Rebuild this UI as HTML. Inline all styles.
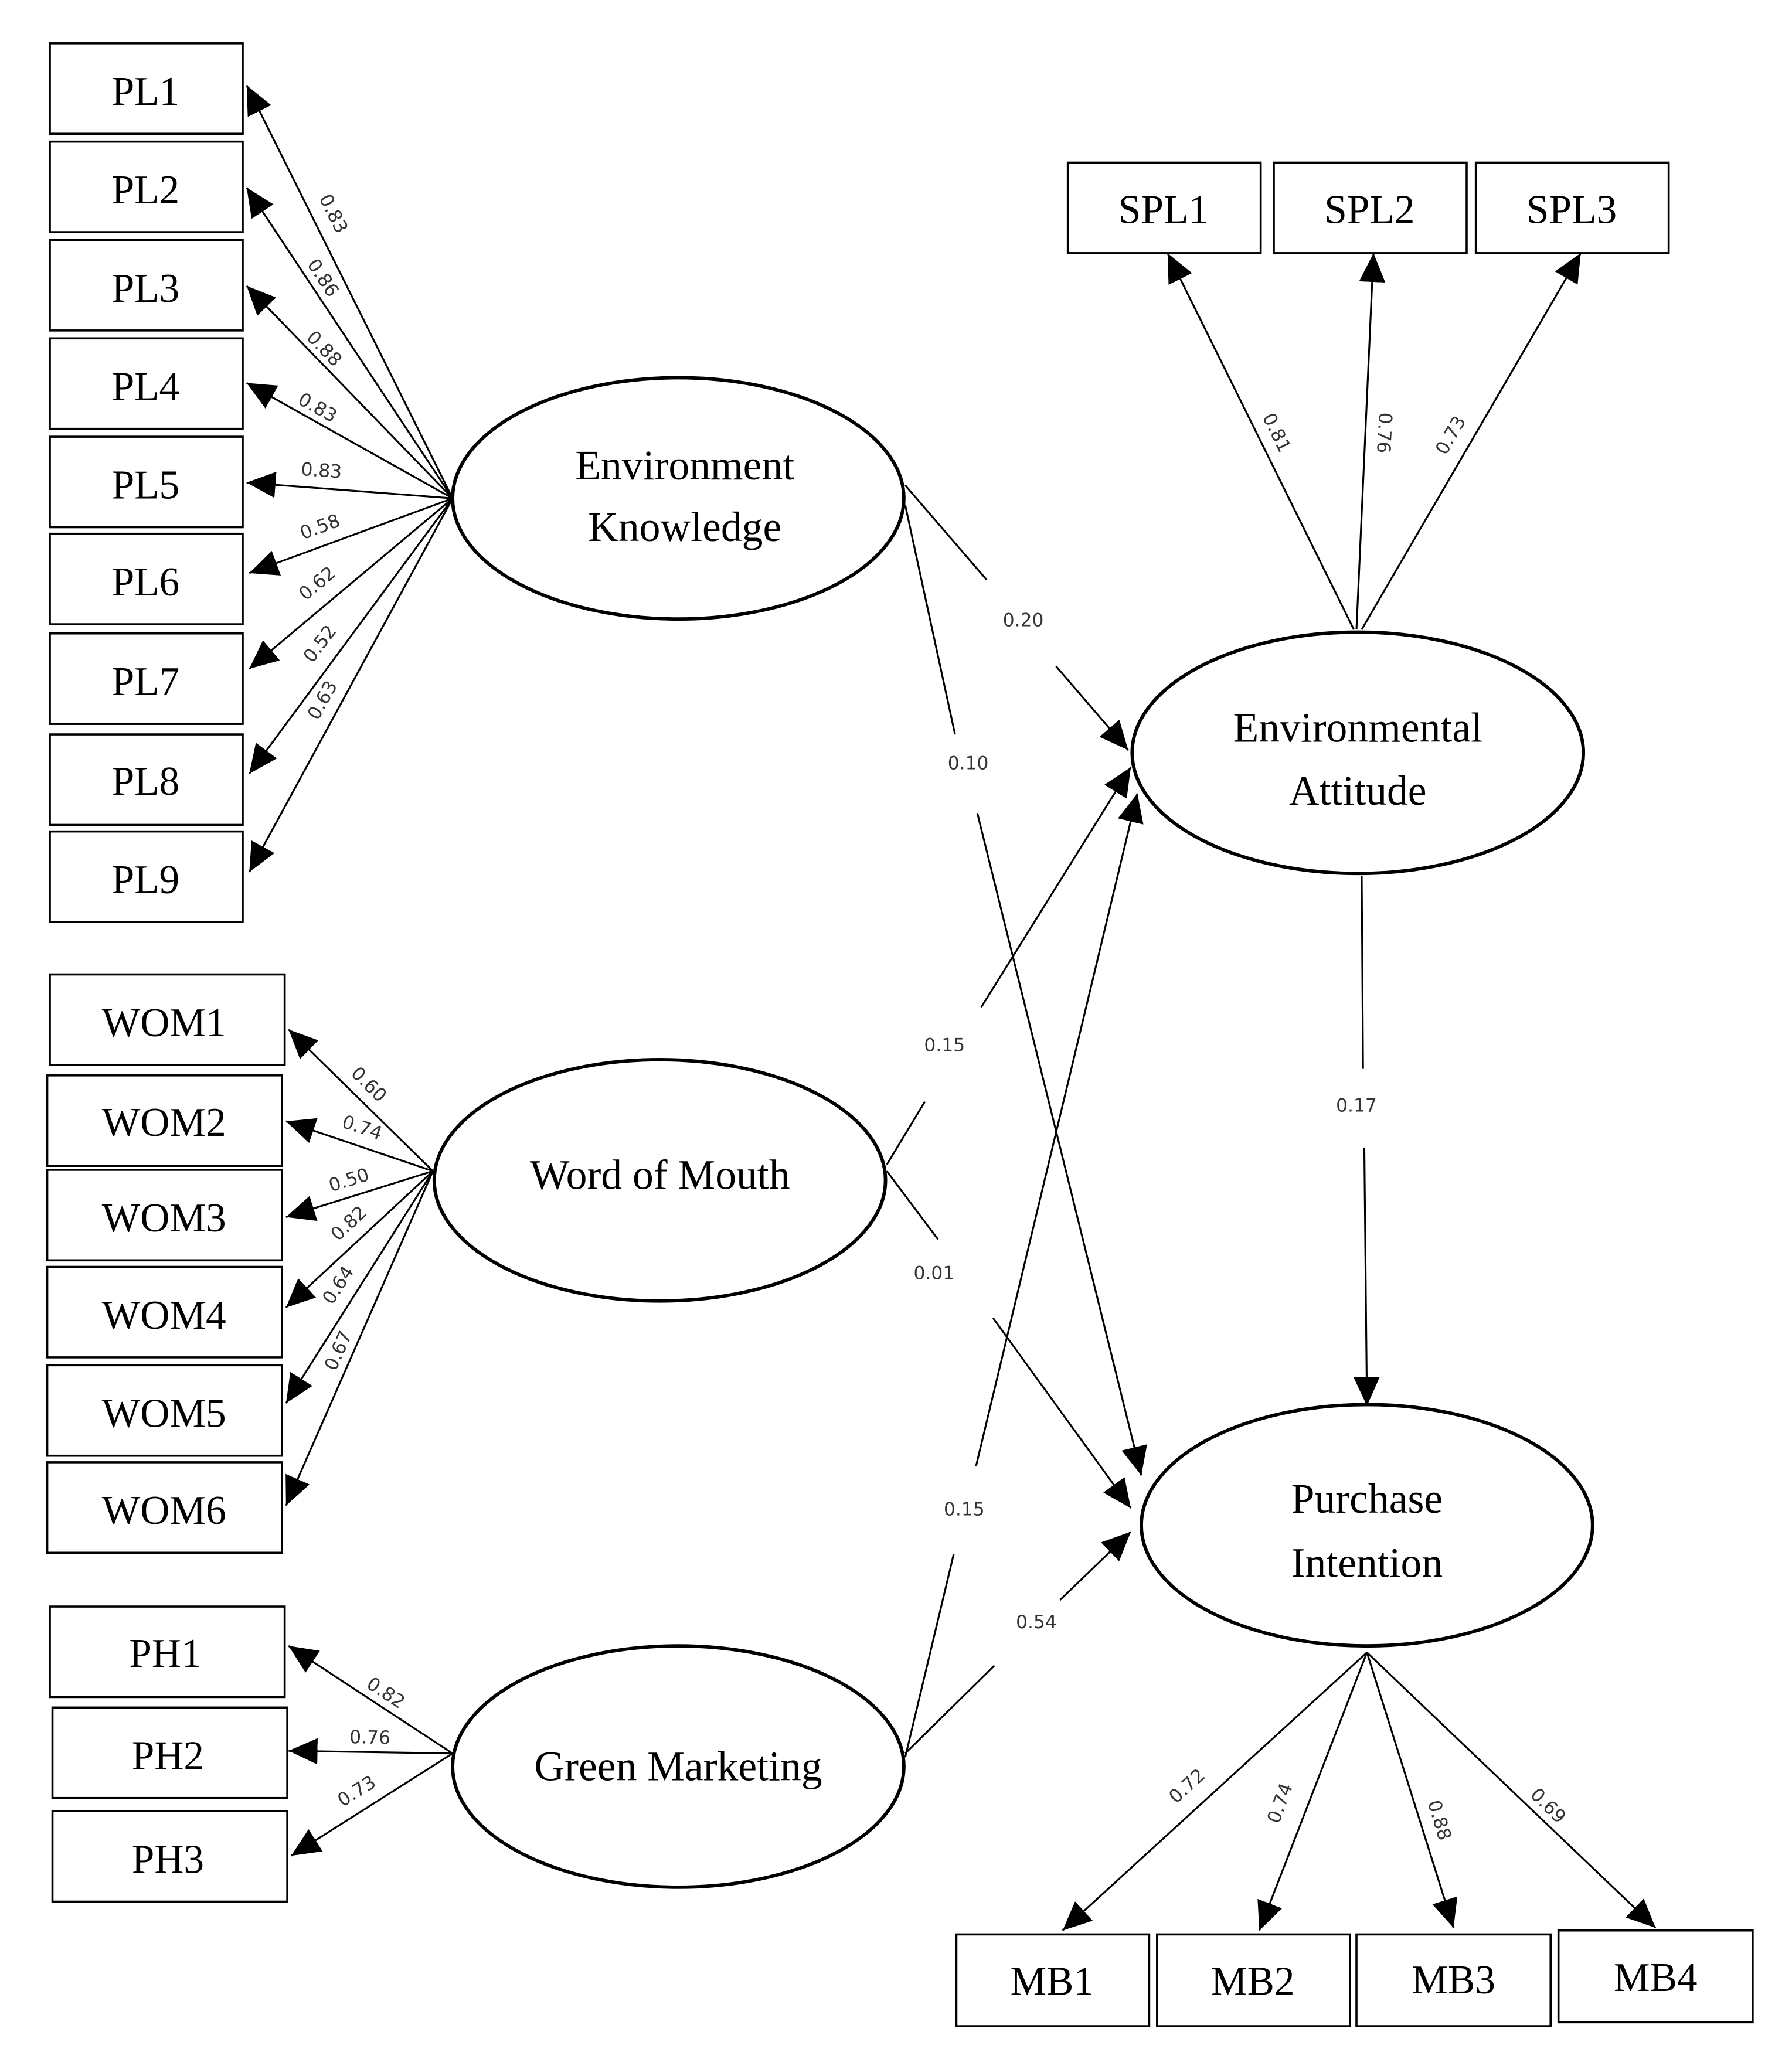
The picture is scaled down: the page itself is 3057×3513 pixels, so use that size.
<!DOCTYPE html>
<html><head><meta charset="utf-8"><style>
html,body{margin:0;padding:0;background:#fff;}
svg{display:block;}
.b{fill:#fff;stroke:#000;stroke-width:1.6;}
.e{fill:#fff;stroke:#000;stroke-width:2.6;}
.l{stroke:#000;stroke-width:1.4;fill:none;}
.bt{font-family:"Liberation Serif",serif;font-size:31px;text-anchor:middle;dominant-baseline:central;}
.et{font-family:"Liberation Serif",serif;font-size:32px;text-anchor:middle;dominant-baseline:central;}
.n{font-family:"DejaVu Sans","Liberation Sans",sans-serif;font-size:14px;fill:#333;text-anchor:middle;dominant-baseline:central;}
</style></head><body>
<svg width="3057" height="3513" viewBox="0 0 1366 1570" preserveAspectRatio="none" xmlns="http://www.w3.org/2000/svg">
<defs><marker id="a" markerUnits="userSpaceOnUse" markerWidth="24" markerHeight="24" refX="22" refY="10" orient="auto"><path d="M0,0 L22,10 L0,20 Z" fill="#000"/></marker></defs>

<!-- PL boxes -->
<g>
<rect class="b" x="38" y="33" width="147" height="69"/><text class="bt" x="111" y="70">PL1</text>
<rect class="b" x="38" y="108" width="147" height="69"/><text class="bt" x="111" y="145">PL2</text>
<rect class="b" x="38" y="183" width="147" height="69"/><text class="bt" x="111" y="220">PL3</text>
<rect class="b" x="38" y="258" width="147" height="69"/><text class="bt" x="111" y="295">PL4</text>
<rect class="b" x="38" y="333" width="147" height="69"/><text class="bt" x="111" y="370">PL5</text>
<rect class="b" x="38" y="407" width="147" height="69"/><text class="bt" x="111" y="444">PL6</text>
<rect class="b" x="38" y="483" width="147" height="69"/><text class="bt" x="111" y="520">PL7</text>
<rect class="b" x="38" y="560" width="147" height="69"/><text class="bt" x="111" y="596">PL8</text>
<rect class="b" x="38" y="634" width="147" height="69"/><text class="bt" x="111" y="671">PL9</text>
</g>
<g class="l" marker-end="url(#a)">
<line x1="345" y1="380" x2="188" y2="65"/>
<line x1="345" y1="380" x2="188" y2="143"/>
<line x1="345" y1="380" x2="188" y2="218"/>
<line x1="345" y1="380" x2="188" y2="292"/>
<line x1="345" y1="380" x2="188" y2="368"/>
<line x1="345" y1="380" x2="190" y2="437"/>
<line x1="345" y1="380" x2="190" y2="510"/>
<line x1="345" y1="380" x2="190" y2="590"/>
<line x1="345" y1="380" x2="190" y2="665"/>
</g>
<text class="n" transform="translate(254,163) rotate(63.5)">0.83</text>
<text class="n" transform="translate(246,212) rotate(56.5)">0.86</text>
<text class="n" transform="translate(247,266) rotate(46)">0.88</text>
<text class="n" transform="translate(242,311) rotate(29)">0.83</text>
<text class="n" transform="translate(245,359) rotate(4)">0.83</text>
<text class="n" transform="translate(244,402) rotate(-20)">0.58</text>
<text class="n" transform="translate(242,445) rotate(-40)">0.62</text>
<text class="n" transform="translate(244,491) rotate(-53)">0.52</text>
<text class="n" transform="translate(246,534) rotate(-61)">0.63</text>

<!-- WOM -->
<rect class="b" x="38" y="743" width="179" height="69"/><text class="bt" x="125" y="780">WOM1</text>
<rect class="b" x="36" y="820" width="179" height="69"/><text class="bt" x="125" y="856">WOM2</text>
<rect class="b" x="36" y="892" width="179" height="69"/><text class="bt" x="125" y="929">WOM3</text>
<rect class="b" x="36" y="966" width="179" height="69"/><text class="bt" x="125" y="1003">WOM4</text>
<rect class="b" x="36" y="1041" width="179" height="69"/><text class="bt" x="125" y="1078">WOM5</text>
<rect class="b" x="36" y="1115" width="179" height="69"/><text class="bt" x="125" y="1152">WOM6</text>
<g class="l" marker-end="url(#a)">
<line x1="330" y1="893" x2="220" y2="785"/>
<line x1="330" y1="893" x2="218" y2="855"/>
<line x1="330" y1="893" x2="218" y2="928"/>
<line x1="330" y1="893" x2="218" y2="997"/>
<line x1="330" y1="893" x2="218" y2="1070"/>
<line x1="330" y1="893" x2="218" y2="1148"/>
</g>
<text class="n" transform="translate(281,827) rotate(44.5)">0.60</text>
<text class="n" transform="translate(276,860) rotate(18.7)">0.74</text>
<text class="n" transform="translate(266,900) rotate(-17)">0.50</text>
<text class="n" transform="translate(266,933) rotate(-43)">0.82</text>
<text class="n" transform="translate(258,980) rotate(-57)">0.64</text>
<text class="n" transform="translate(258,1030) rotate(-66)">0.67</text>

<!-- PH -->
<rect class="b" x="38" y="1225" width="179" height="69"/><text class="bt" x="126" y="1261">PH1</text>
<rect class="b" x="40" y="1302" width="179" height="69"/><text class="bt" x="128" y="1339">PH2</text>
<rect class="b" x="40" y="1381" width="179" height="69"/><text class="bt" x="128" y="1418">PH3</text>
<g class="l" marker-end="url(#a)">
<line x1="345" y1="1337" x2="220" y2="1255"/>
<line x1="345" y1="1337" x2="220" y2="1335"/>
<line x1="345" y1="1337" x2="222" y2="1415"/>
</g>
<text class="n" transform="translate(294,1291) rotate(33)">0.82</text>
<text class="n" transform="translate(282,1325) rotate(1)">0.76</text>
<text class="n" transform="translate(272,1366) rotate(-32)">0.73</text>

<!-- SPL -->
<rect class="b" x="814" y="124" width="147" height="69"/><text class="bt" x="887" y="160">SPL1</text>
<rect class="b" x="971" y="124" width="147" height="69"/><text class="bt" x="1044" y="160">SPL2</text>
<rect class="b" x="1125" y="124" width="147" height="69"/><text class="bt" x="1198" y="160">SPL3</text>
<g class="l" marker-end="url(#a)">
<line x1="1032" y1="480" x2="890" y2="193"/>
<line x1="1034" y1="480" x2="1047" y2="193"/>
<line x1="1038" y1="480" x2="1205" y2="193"/>
</g>
<text class="n" transform="translate(973,330) rotate(64)">0.81</text>
<text class="n" transform="translate(1055,330) rotate(93)">0.76</text>
<text class="n" transform="translate(1106,332) rotate(-60)">0.73</text>

<!-- MB -->
<rect class="b" x="729" y="1475" width="147" height="70"/><text class="bt" x="802" y="1511">MB1</text>
<rect class="b" x="882" y="1475" width="147" height="70"/><text class="bt" x="955" y="1511">MB2</text>
<rect class="b" x="1034" y="1475" width="148" height="70"/><text class="bt" x="1108" y="1510">MB3</text>
<rect class="b" x="1188" y="1472" width="148" height="70"/><text class="bt" x="1262" y="1508">MB4</text>
<g class="l" marker-end="url(#a)">
<line x1="1042" y1="1260" x2="810" y2="1472"/>
<line x1="1042" y1="1260" x2="960" y2="1472"/>
<line x1="1042" y1="1260" x2="1108" y2="1470"/>
<line x1="1042" y1="1260" x2="1262" y2="1470"/>
</g>
<text class="n" transform="translate(905,1362) rotate(-42)">0.72</text>
<text class="n" transform="translate(976,1375) rotate(-70)">0.74</text>
<text class="n" transform="translate(1097,1388) rotate(73)">0.88</text>
<text class="n" transform="translate(1180,1377) rotate(45)">0.69</text>

<!-- structural paths -->
<g class="l">
<line x1="690" y1="370" x2="752" y2="442"/>
<line x1="805" y1="508" x2="860" y2="572" marker-end="url(#a)"/>
<line x1="690" y1="385" x2="728" y2="560"/>
<line x1="745" y1="620" x2="870" y2="1125" marker-end="url(#a)"/>
<line x1="676" y1="888" x2="705" y2="840"/>
<line x1="748" y1="768" x2="862" y2="585" marker-end="url(#a)"/>
<line x1="676" y1="893" x2="715" y2="945"/>
<line x1="757" y1="1005" x2="862" y2="1150" marker-end="url(#a)"/>
<line x1="690" y1="1340" x2="727" y2="1185"/>
<line x1="744" y1="1118" x2="867" y2="605" marker-end="url(#a)"/>
<line x1="690" y1="1337" x2="758" y2="1270"/>
<line x1="808" y1="1220" x2="862" y2="1168" marker-end="url(#a)"/>
<line x1="1038" y1="668" x2="1039" y2="815"/>
<line x1="1040" y1="875" x2="1042" y2="1072" marker-end="url(#a)"/>
</g>
<text class="n" x="780" y="473">0.20</text>
<text class="n" x="738" y="582">0.10</text>
<text class="n" x="720" y="797">0.15</text>
<text class="n" x="712" y="971">0.01</text>
<text class="n" x="735" y="1151">0.15</text>
<text class="n" x="790" y="1237">0.54</text>
<text class="n" x="1034" y="843">0.17</text>

<!-- ellipses -->
<ellipse class="e" cx="517" cy="380" rx="172" ry="92"/>
<text class="et" x="522" y="355">Environment</text><text class="et" x="522" y="402">Knowledge</text>
<ellipse class="e" cx="1035" cy="574" rx="172" ry="92"/>
<text class="et" x="1035" y="555">Environmental</text><text class="et" x="1035" y="603">Attitude</text>
<ellipse class="e" cx="503" cy="900" rx="172" ry="92"/>
<text class="et" x="503" y="896">Word of Mouth</text>
<ellipse class="e" cx="517" cy="1347" rx="172" ry="92"/>
<text class="et" x="517" y="1347">Green Marketing</text>
<ellipse class="e" cx="1042" cy="1163" rx="172" ry="92"/>
<text class="et" x="1042" y="1143">Purchase</text><text class="et" x="1042" y="1192">Intention</text>
</svg>
</body></html>
